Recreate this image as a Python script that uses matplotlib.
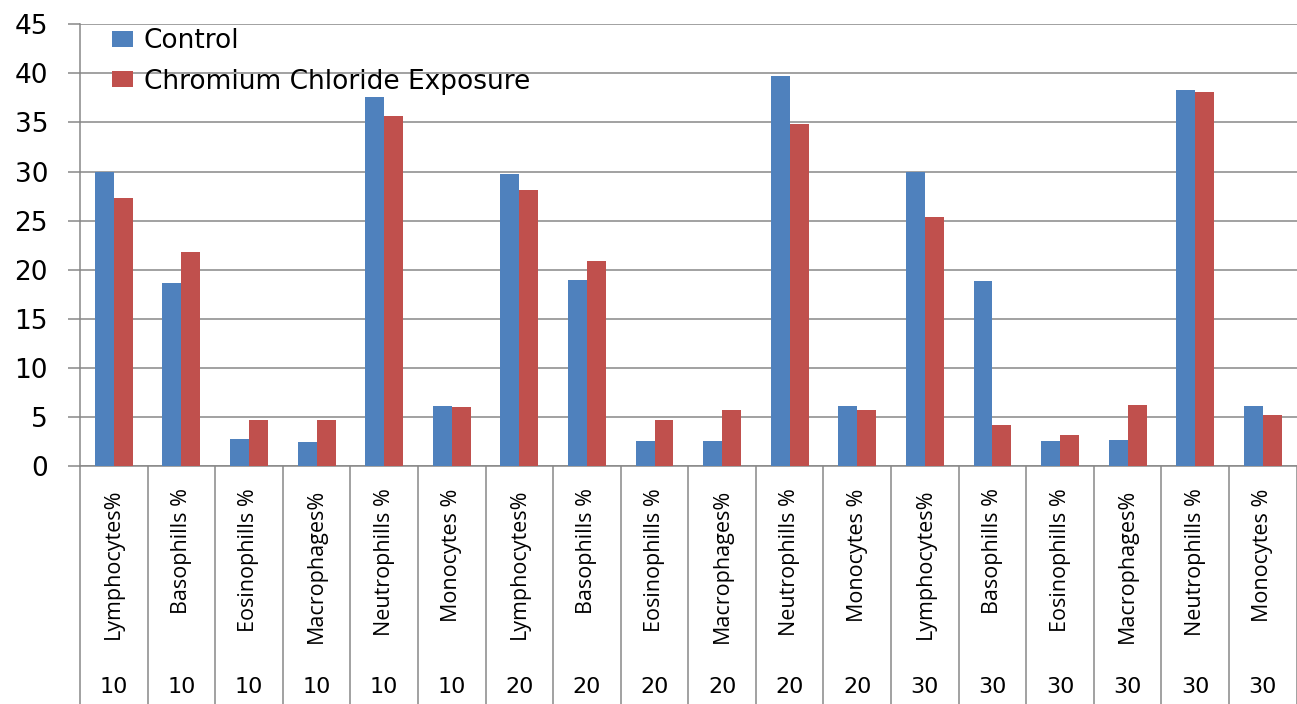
from matplotlib import pyplot as plt
import numpy as np

# Data
# ===================================================================================================
cells = ['Lymphocytes%', 'Basophills %', 'Eosinophills %', 'Macrophages%', 'Neutrophills %', 'Monocytes %'] * 3
days = ['10'] * 6 + ['20'] * 6 + ['30'] * 6

control = [30.0, 18.6, 2.8, 2.5, 37.6, 6.1,
           29.8, 19.0, 2.6, 2.6, 39.7, 6.1,
           30.0, 18.9, 2.6, 2.7, 38.3, 6.1]
chromium = [27.3, 21.8, 4.7, 4.7, 35.7, 6.0,
            28.1, 20.9, 4.7, 5.7, 34.8, 5.7,
            25.4, 4.2, 3.2, 6.2, 38.1, 5.2]

# Figure
# ===================================================================================================
grid_col = '#878787'
fig = plt.figure(figsize=(12.97, 7.04), dpi=100)
ax = fig.add_axes([0.0617, 0.338, 0.938, 0.6275])

x = np.arange(len(cells))
w = 0.28
ax.bar(x - w / 2, control, w, color='#4F81BD', label='Control', zorder=3)
ax.bar(x + w / 2, chromium, w, color='#C0504D', label='Chromium Chloride Exposure', zorder=3)

ax.set_xlim(-0.5, len(cells) - 0.5)
ax.set_ylim(0, 45)
ax.set_yticks(np.arange(0, 46, 5))
ax.yaxis.grid(True, color=grid_col, linewidth=1.1, zorder=0)
ax.set_axisbelow(True)

for s in ['top', 'right']:
    ax.spines[s].set_visible(False)
ax.spines['left'].set_color(grid_col)
ax.spines['bottom'].set_color(grid_col)
ax.spines['left'].set_linewidth(1.1)
ax.spines['bottom'].set_linewidth(1.1)

ax.tick_params(axis='y', length=9, color=grid_col, width=1.1, pad=14, labelsize=19)
for lab in ax.get_yticklabels():
    lab.set_fontfamily('DejaVu Sans')

# category labels
ax.set_xticks(x)
ax.set_xticklabels(cells, rotation=90, fontsize=15.5, family='Open Sans', va='top', ha='center')
ax.tick_params(axis='x', length=0, pad=16)

# separators reaching down to the bottom
low = -0.54
ax.vlines(np.arange(len(cells) + 1) - 0.5, low, 0, transform=ax.get_xaxis_transform(),
          colors=grid_col, linewidth=1.1, clip_on=False)

# exposure days row
for i, d in enumerate(days):
    ax.text(i, -0.5, d, transform=ax.get_xaxis_transform(), ha='center', va='center',
            fontsize=16, family='DejaVu Sans')

ax.legend(loc='upper left', bbox_to_anchor=(0.007, 1.045), frameon=False, fontsize=19,
          handlelength=0.8, handleheight=0.55, handletextpad=0.4, labelspacing=0.55)

plt.savefig('out.png', dpi=100)
